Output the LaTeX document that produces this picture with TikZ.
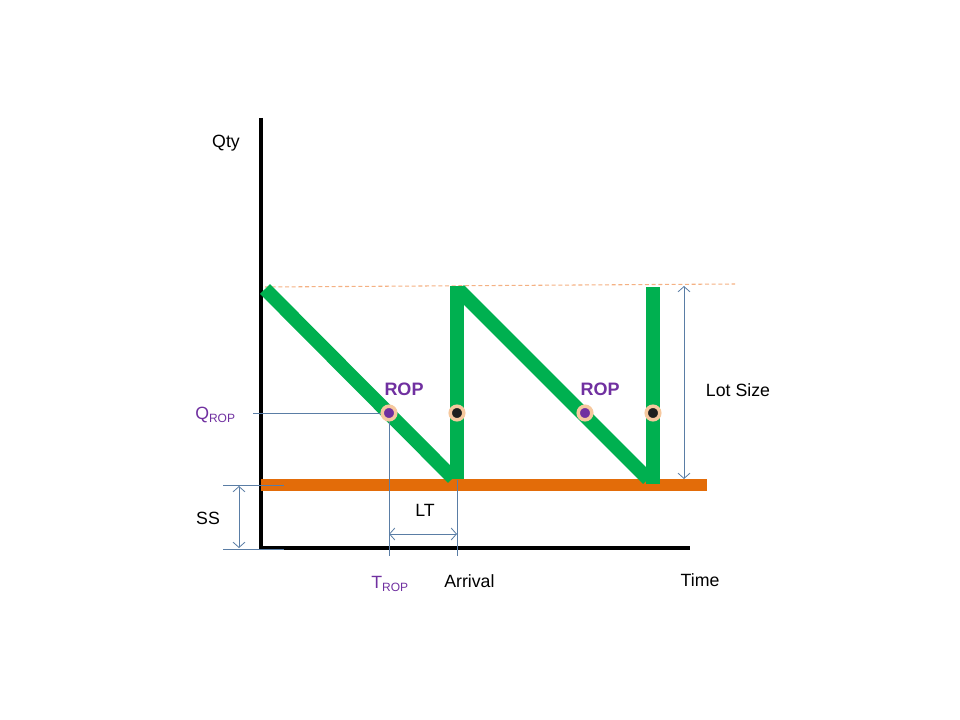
\documentclass[tikz,border=0pt]{standalone}
\usepackage{fontspec}
\setmainfont{Liberation Sans}
\usetikzlibrary{arrows.meta}
\definecolor{stockgreen}{HTML}{00B050}
\definecolor{ssorange}{HTML}{E36C09}
\definecolor{lotorange}{HTML}{F4B183}
\definecolor{ropviolet}{HTML}{7030A0}
\definecolor{dimblue}{HTML}{5A7DA5}
\definecolor{ringpeach}{HTML}{F6C89E}
\begin{document}
\begin{tikzpicture}[x=0.75pt, y=-0.75pt,
  axis/.style={draw=black, line width=3pt},
  stock/.style={draw=stockgreen, line width=10.5pt},
  ssbar/.style={draw=ssorange, line width=9pt},
  lotline/.style={draw=lotorange, line width=0.8pt, dash pattern=on 3pt off 2pt},
  guide/.style={draw=dimblue, line width=0.6pt},
  dim/.style={guide, {Straight Barb[length=4pt,width=9pt]}-{Straight Barb[length=4pt,width=9pt]}},
  lbl/.style={font=\fontsize{13.3}{16}\selectfont, inner sep=0pt, anchor=base},
  roplbl/.style={lbl, text=ropviolet, font=\fontsize{13.5}{16}\selectfont\bfseries},
  ropdot/.style={circle, draw=ringpeach, line width=2.6pt, fill=ropviolet, minimum size=10.2pt, inner sep=0pt},
  arrdot/.style={ropdot, fill=black!88},
]
\def\sub#1{\raisebox{-0.4ex}{\fontsize{9}{9}\selectfont #1}}
\useasboundingbox (0,0) rectangle (960,720);

% axes
\coordinate (ytop) at (261,118);
\coordinate (o) at (261,548);
\coordinate (xend) at (690,548);
\draw[axis] (ytop) -- (o) -- (xend);

% safety stock level and lot size level
\coordinate (ss0) at (261,485);
\coordinate (ss1) at (707,485);
\draw[ssbar] (ss0) -- (ss1);
\coordinate (lot0) at (265,287);
\coordinate (lot1) at (735,284);
\draw[lotline] (lot0) -- (lot1);

% sawtooth
\coordinate (peak1) at (265,289);
\coordinate (low1) at (453,478);
\coordinate (top2) at (457,286);
\coordinate (bot2) at (457,479);
\coordinate (peak2) at (459,290);
\coordinate (low2) at (648,479);
\coordinate (top3) at (653,287);
\coordinate (bot3) at (653,484);
\draw[stock] (peak1) -- (low1);
\draw[stock] (bot2) -- (top2);
\draw[stock] (peak2) -- (low2);
\draw[stock] (bot3) -- (top3);

% guides
\coordinate (qstart) at (253,413);
\coordinate (tend) at (389,556);
\coordinate (arrtop) at (457,480);
\coordinate (arrend) at (457,556);
\draw[guide] (qstart) -- (389,413) coordinate (qrop);
\draw[guide] (qrop) -- (tend);
\draw[guide] (arrtop) -- (arrend);
\draw[dim] (389,534) coordinate (lt0) -- (457,534) coordinate (lt1);

\draw[guide] (223,485) coordinate (ssa) -- (284,485);
\draw[guide] (223,549) coordinate (ssb) -- (284,549);
\draw[dim] (239,486) coordinate (ss2) -- (239,548) coordinate (ss3);
\draw[dim] (684,286) coordinate (lsa) -- (684,479) coordinate (lsb);

% dots
\node[ropdot] (rop1) at (389,413) {};
\node[arrdot] (arr1) at (457,413) {};
\node[ropdot] (rop2) at (585,413) {};
\node[arrdot] (arr2) at (653,413) {};

% labels
\node[roplbl] (roplbl1) at (404,395) {ROP};
\node[roplbl] (roplbl2) at (600,395) {ROP};
\node[lbl] (qty) at (226,148) {Qty};
\node[lbl, anchor=base west, text=ropviolet] (qlbl) at (195,419) {Q\sub{ROP}};
\node[lbl] (ltlbl) at (425,516) {LT};
\node[lbl] (sslbl) at (208,524) {SS};
\node[lbl, anchor=base west, text=ropviolet] (tlbl) at (371,588) {T\sub{ROP}};
\node[lbl, anchor=base west] (arrlbl) at (444,587) {Arrival};
\node[lbl] (timelbl) at (700,586) {Time};
\node[lbl] (lotlbl) at (738,396) {Lot Size};
\end{tikzpicture}
\end{document}
